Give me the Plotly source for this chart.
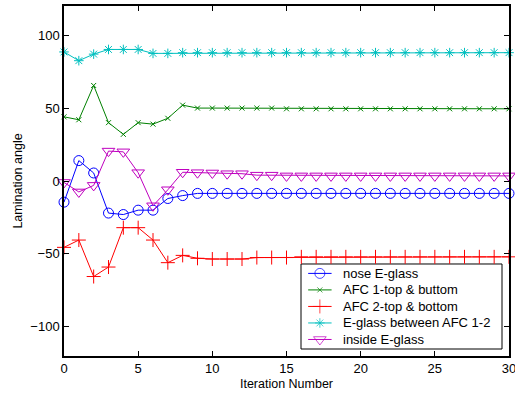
import plotly.graph_objects as go

iterations = list(range(31))

nose_eglass = [-14.5, 14, 5.5, -22, -23, -20, -20, -12, -10, -8.5, -8.5, -8.5, -8.5, -8.5, -8.5, -8.5,
               -8.5, -8.5, -8.5, -8.5, -8.5, -8.5, -8.5, -8.5, -8.5, -8.5, -8.5, -8.5, -8.5, -8.5, -8.5]
afc1 = [44, 42, 65.5, 40, 32, 40, 39, 43, 52, 50, 50, 50, 50, 50, 50, 49.5,
        49.5, 49.5, 49.5, 49.5, 49.5, 49.5, 49.5, 49.5, 49.5, 49.5, 49.5, 49.5, 49.5, 49.5, 49.5]
afc2 = [-45.5, -40.5, -65.5, -59, -32, -32, -40.5, -56, -51, -53, -53.5, -53.5, -53.5, -52.5, -52.5, -52.5,
        -52, -52, -52, -52, -52, -52, -52, -52, -52, -52, -52, -52, -52, -52, -52]
eglass_between = [88.5, 82.5, 87, 90.2, 90.2, 90.2, 87.5, 87.5, 88, 88, 88, 88, 88, 88, 88, 88,
                  88, 88, 88, 88, 88, 88, 88, 88, 88, 88, 88, 88, 88, 88, 88]
inside_eglass = [-1, -7.5, -3, 20.5, 20, 5.7, -17, -6, 6, 5.7, 5.5, 5, 5, 4, 4, 3.5,
                 3.5, 3.5, 3.5, 3.5, 3.5, 3.5, 3.5, 3.5, 3.5, 3.5, 3.5, 3.5, 3.5, 3.5, 3.5]

series = [
    ("nose E-glass", nose_eglass, "#0000ff", "circle-open", 10),
    ("AFC 1-top & buttom", afc1, "#008000", "x-thin-open", 5),
    ("AFC 2-top & bottom", afc2, "#ff0000", "cross-thin-open", 10),
    ("E-glass between AFC 1-2", eglass_between, "#00bfbf", "asterisk-open", 8),
    ("inside E-glass", inside_eglass, "#bf00bf", "triangle-down-open", 11),
]

FONT = "Liberation Sans, Arial, sans-serif"

# compact legend box, in plot-area fractions
LEG_X0, LEG_X1 = 0.5326, 0.9843
LEG_Y0, LEG_Y1 = 0.02, 0.2629
ROW_TOP, ROW_STEP = 0.236, 0.0472
SAMPLE_X0, SAMPLE_X1 = 0.5487, 0.6013
TEXT_X = 0.6218

fig = go.Figure()
for name, vals, color, symbol, size in series:
    fig.add_trace(go.Scatter(
        x=iterations, y=vals, name=name, mode="lines+markers",
        line=dict(color=color, width=1),
        marker=dict(symbol=symbol, size=size, color=color,
                    line=dict(color=color, width=1)),
        cliponaxis=False, showlegend=False,
    ))

fig.add_shape(type="rect", xref="paper", yref="paper",
              x0=LEG_X0, x1=LEG_X1, y0=LEG_Y0, y1=LEG_Y1,
              line=dict(color="black", width=1), fillcolor="white", layer="below")

for i, (name, vals, color, symbol, size) in enumerate(series):
    row_y = ROW_TOP - i * ROW_STEP
    fig.add_trace(go.Scatter(
        x=[SAMPLE_X0, (SAMPLE_X0 + SAMPLE_X1) / 2, SAMPLE_X1], y=[row_y] * 3,
        xaxis="x2", yaxis="y2", mode="lines+markers",
        line=dict(color=color, width=1),
        marker=dict(symbol=symbol, size=[0, size, 0], color=color,
                    line=dict(color=color, width=1)),
        cliponaxis=False, showlegend=False, hoverinfo="skip",
    ))
    fig.add_annotation(x=TEXT_X, y=row_y, xref="paper", yref="paper",
                       text=name, showarrow=False, xanchor="left", yanchor="middle",
                       font=dict(family=FONT, size=13, color="black"))

axis_common = dict(
    showgrid=False, zeroline=False, showline=True, linecolor="black", linewidth=1.5,
    mirror="ticks", ticks="inside", ticklen=5, tickcolor="black", automargin=False,
    ticklabeloverflow="allow",
    tickfont=dict(family=FONT, size=13, color="black"),
)

fig.update_layout(
    width=515, height=398,
    margin=dict(l=64, r=6, t=6, b=42),
    paper_bgcolor="white", plot_bgcolor="white",
    font=dict(family=FONT, size=13, color="black"),
    xaxis=dict(range=[0, 30], tickvals=[0, 5, 10, 15, 20, 25, 30],
               title=dict(text="Iteration Number", standoff=4,
                          font=dict(family=FONT, size=12.5)), **axis_common),
    yaxis=dict(range=[-120, 120], tickvals=[-100, -50, 0, 50, 100],
               title=dict(text="Lamination angle", standoff=5,
                          font=dict(family=FONT, size=12.5)), **axis_common),
    xaxis2=dict(overlaying="x", range=[0, 1], visible=False, fixedrange=True),
    yaxis2=dict(overlaying="y", range=[0, 1], visible=False, fixedrange=True),
    showlegend=False,
)

fig.write_html("out.html")
